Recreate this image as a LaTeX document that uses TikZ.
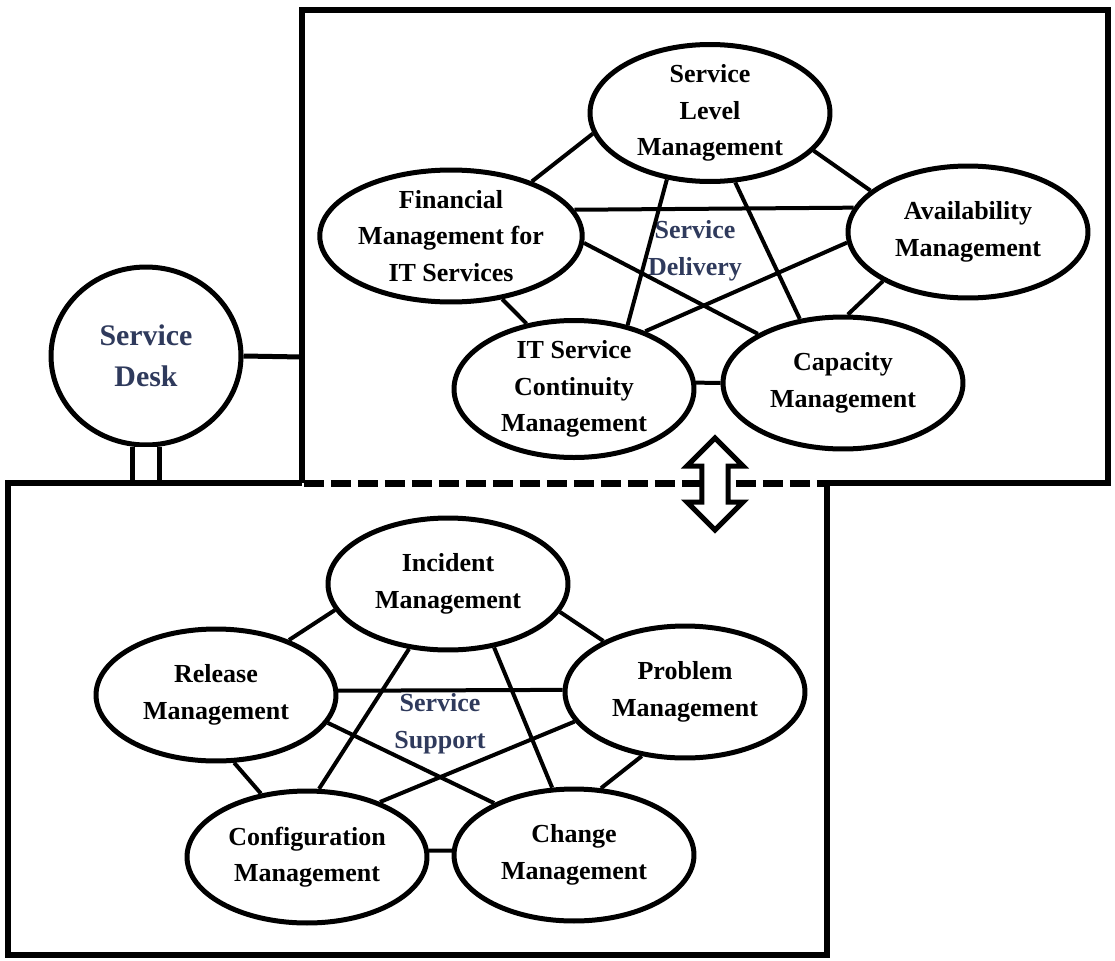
\documentclass[tikz,border=0pt]{standalone}
\usepackage{fontspec}
\setmainfont{Liberation Serif}
\usetikzlibrary{shapes.geometric,shapes.arrows}
\definecolor{labelnavy}{HTML}{2F3A5C}

\begin{document}
\begin{tikzpicture}[x=0.02cm, y=-0.02cm,
  proc/.style={draw, ellipse, line width=0.1cm, fill=white, minimum width=4.8cm, minimum height=2.64cm, inner sep=0pt, align=center, font=\fontsize{14.8}{20.8}\selectfont\bfseries},
  desk/.style={draw, ellipse, line width=0.1cm, fill=white, minimum width=3.8cm, minimum height=3.56cm, inner sep=0pt, align=center, text=labelnavy, font=\fontsize{17}{23.5}\selectfont\bfseries},
  area/.style={align=center, text=labelnavy, font=\fontsize{14.8}{20.8}\selectfont\bfseries},
  link/.style={line width=0.08cm, black},
  frame/.style={line width=0.12cm, line join=miter},
  seam/.style={line width=0.14cm, dash pattern=on 0.4cm off 0.14cm},
  pipe/.style={line width=0.1cm, double=white, double distance=0.44cm}
]
  \useasboundingbox (0,0) rectangle (1115,960);

  % service delivery
  \node[proc] (slm) at (710,113) {Service\\Level\\Management};
  \node[proc] (fin) at (451,236) {Financial\\Management for\\IT Services};
  \node[proc] (avail) at (968,232) {Availability\\Management};
  \node[proc] (itscm) at (574,389) {IT Service\\Continuity\\Management};
  \node[proc] (cap) at (843,383) {Capacity\\Management};
  \node[area] (delivery) at (695,251) {Service\\Delivery};

  \draw[link] (fin.34) -- (slm.190);
  \draw[link] (slm.-20) -- (avail.157);
  \draw[link] (fin.12) -- (avail.168);
  \draw[link] (fin.-3) -- (cap.150);
  \draw[link] (fin.-51) -- (itscm.126);
  \draw[link] (slm.237) -- (itscm.50);
  \draw[link] (slm.-70) -- (cap.124);
  \draw[link] (avail.185) -- (itscm.39);
  \draw[link] (avail.210) -- (cap.86);
  \draw[link] (itscm.3) -- (cap.180);

  % service support
  \node[proc] (incident) at (448,584) {Incident\\Management};
  \node[proc] (release) at (216,695) {Release\\Management};
  \node[proc] (problem) at (685,692) {Problem\\Management};
  \node[proc] (config) at (307,857) {Configuration\\Management};
  \node[proc] (change) at (574,855) {Change\\Management};
  \node[area] (support) at (440,724) {Service\\Support};

  \draw[link] (incident.193) -- (release.37);
  \draw[link] (incident.-14) -- (problem.148);
  \draw[link] (release.2) -- (problem.179);
  \draw[link] (release.-14) -- (change.147);
  \draw[link] (incident.239) -- (config.80);
  \draw[link] (incident.-54) -- (change.108);
  \draw[link] (problem.195) -- (config.37);
  \draw[link] (release.-75) -- (config.126);
  \draw[link] (problem.236) -- (change.68);
  \draw[link] (config.3) -- (change.178);

  % service desk
  \node[desk] (desk) at (146,356) {Service\\Desk};
  \coordinate (deskport) at (302,357);
  \coordinate (deskfoot) at (146,482);
  \draw[link, line width=0.1cm] (desk.east) -- (deskport);
  \draw[pipe] (desk.south) -- (deskfoot);

  % frames
  \draw[frame] (302,483) -- (302,10) -- (1108,10) -- (1108,483) -- (827,483);
  \draw[frame] (302,483) -- (8,483) -- (8,955) -- (827,955) -- (827,483);
  \draw[seam] (304,483) -- (827,483);

  \node[double arrow, draw, line width=0.1cm, fill=white, rotate=90, inner xsep=0pt, inner ysep=0.2cm,
    minimum height=1.84cm, minimum width=1.12cm, double arrow head extend=0.28cm] (sync) at (715,484) {};
\end{tikzpicture}
\end{document}
